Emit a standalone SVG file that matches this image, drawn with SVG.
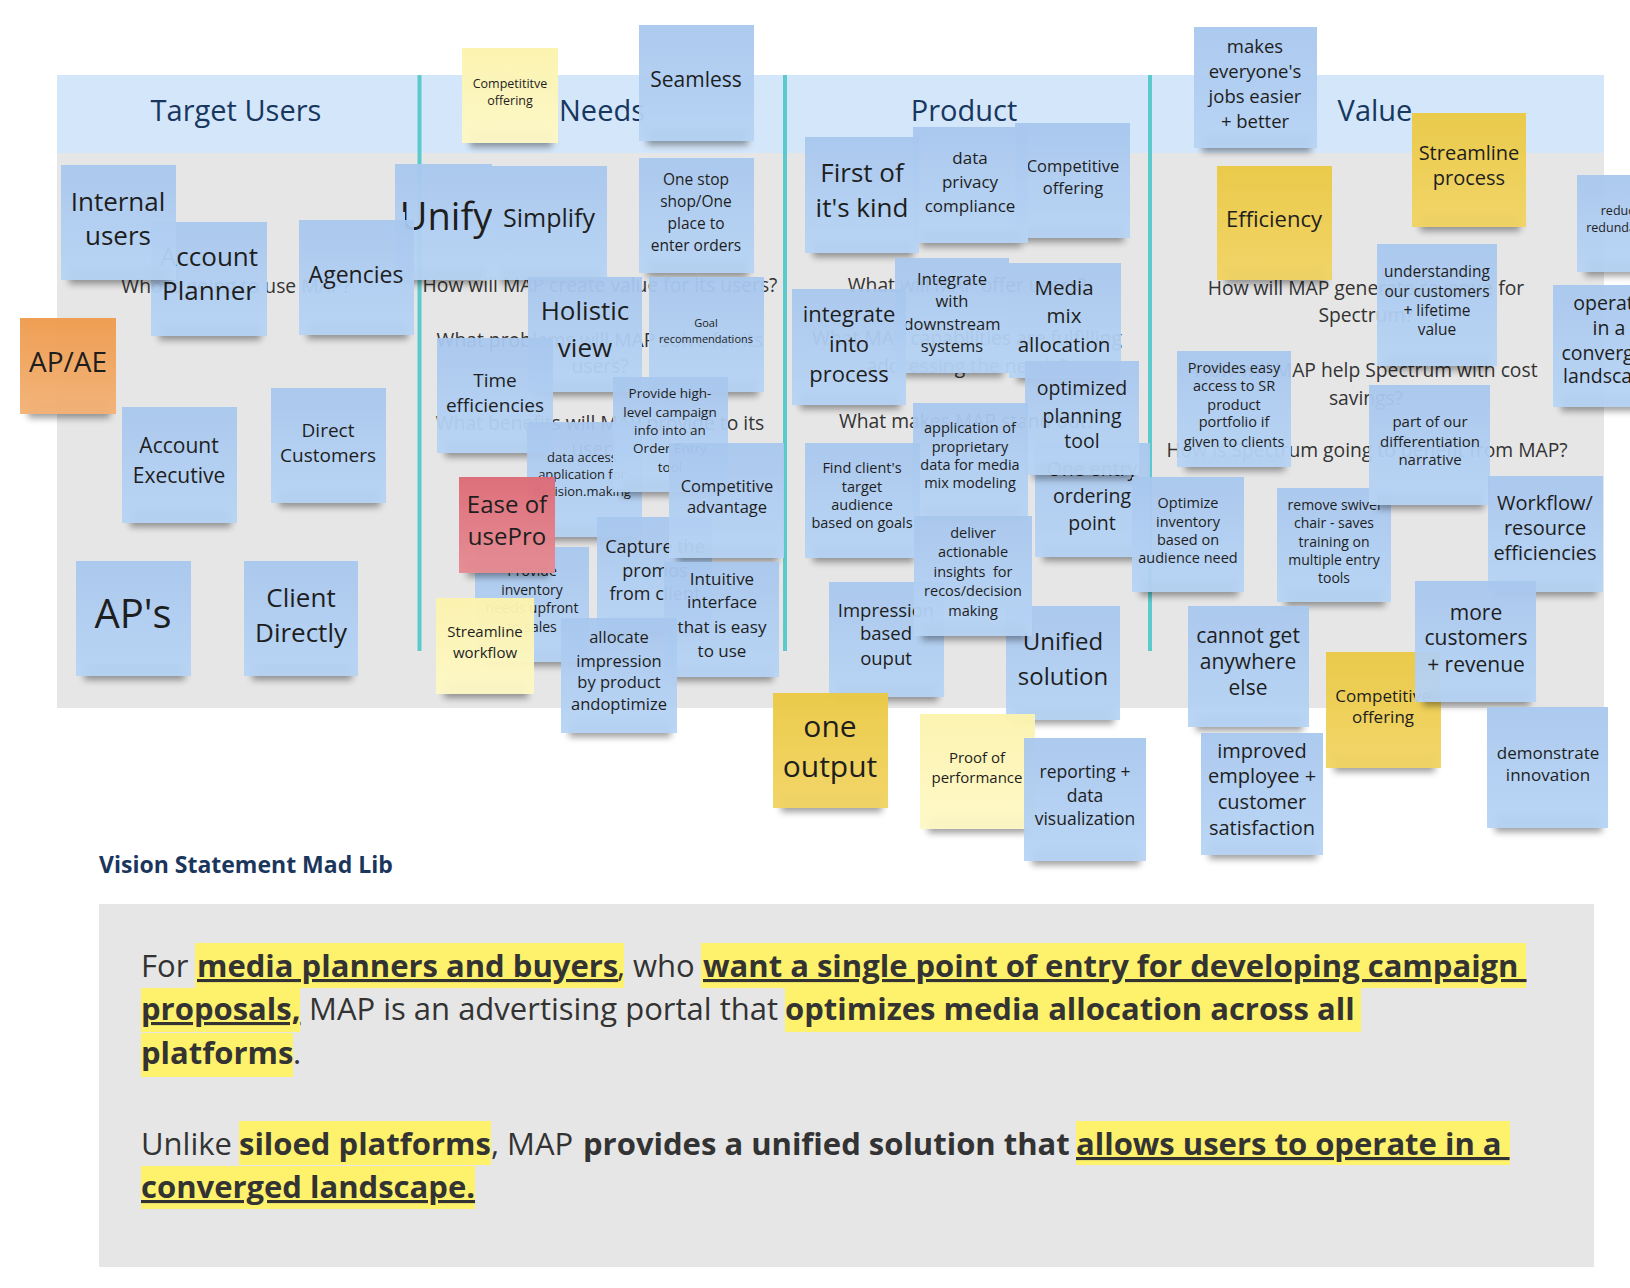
<svg xmlns="http://www.w3.org/2000/svg" width="1630" height="1288" viewBox="0 0 1630 1288">
<defs>
<linearGradient id="gB" x1="0" y1="0" x2="0" y2="1"><stop offset="0" stop-color="#a8c7ee"/><stop offset="1" stop-color="#b7d4f5"/></linearGradient>
<linearGradient id="gY" x1="0" y1="0" x2="0" y2="1"><stop offset="0" stop-color="#ebc944"/><stop offset="1" stop-color="#f1d463"/></linearGradient>
<linearGradient id="gL" x1="0" y1="0" x2="0" y2="1"><stop offset="0" stop-color="#fcf3ad"/><stop offset="1" stop-color="#fef8c6"/></linearGradient>
<linearGradient id="gO" x1="0" y1="0" x2="0" y2="1"><stop offset="0" stop-color="#ee9c4e"/><stop offset="1" stop-color="#f3b277"/></linearGradient>
<linearGradient id="gP" x1="0" y1="0" x2="0" y2="1"><stop offset="0" stop-color="#dd6b77"/><stop offset="1" stop-color="#e68c93"/></linearGradient>
<filter id="blr" x="-20%" y="-80%" width="140%" height="260%"><feGaussianBlur stdDeviation="3.5"/></filter>
<clipPath id="cUnify"><rect x="395" y="164" width="97" height="48"/><rect x="405" y="212" width="87" height="68"/></clipPath>
<style>
.sh{fill:#000;opacity:.38;filter:url(#blr)}
.b{fill:url(#gB);fill-opacity:.95}
.y{fill:url(#gY);fill-opacity:.96}
.l{fill:url(#gL);fill-opacity:.96}
.o{fill:url(#gO);fill-opacity:.97}
.p{fill:url(#gP);fill-opacity:.97}
.t{font-family:"Open Sans","Noto Sans",sans-serif;fill:#1e1e1e;text-anchor:middle}
.q{font-family:"Open Sans","Noto Sans",sans-serif;fill:#333;font-size:19.3px;text-anchor:middle}
.h{font-family:"Open Sans","Noto Sans",sans-serif;fill:#17375e;font-size:29px;text-anchor:middle}
.v{font-family:"Open Sans","Noto Sans",sans-serif;fill:#333;font-size:31px}
.bd{font-weight:700}
.u{text-decoration:underline}
.hl{fill:#fef16c}
.ln{fill:#5cc9cd}
</style>
</defs>
<rect width="1630" height="1288" fill="#fff"/>

<g id="board">
<rect x="57" y="75" width="1547" height="78" fill="#d4e6f9"/>
<rect x="57" y="153" width="1547" height="555" fill="#e6e6e6"/>
<rect class="ln" x="417.5" y="75" width="4" height="576"/>
<rect class="ln" x="783" y="75" width="4" height="576"/>
<rect class="ln" x="1148" y="75" width="4" height="576"/>
<text class="h" x="236" y="121">Target Users</text>
<text class="h" x="602" y="121">Needs</text>
<text class="h" x="964" y="121">Product</text>
<text class="h" x="1375" y="121">Value</text>
</g>

<g id="questions">
<text class="q" x="236" y="293">Who is going to use MAP?</text>
<text class="q" x="600" y="292">How will MAP create value for its users?</text>
<text class="q"><tspan x="600" y="347">What problems will MAP solve for its</tspan><tspan x="600" y="373">users?</tspan></text>
<text class="q"><tspan x="600" y="430">What benefits will MAP provide to its</tspan><tspan x="600" y="456">users?</tspan></text>
<text class="q" x="967" y="292">What will MAP offer users?</text>
<text class="q"><tspan x="967" y="345">What MAP capabilities are fulfilling</tspan><tspan x="967" y="373">addressing the needs?</tspan></text>
<text class="q" x="967" y="428">What makes MAP stand out?</text>
<text class="q"><tspan x="1366" y="295">How will MAP generate revenue for</tspan><tspan x="1366" y="322">Spectrum?</tspan></text>
<text class="q"><tspan x="1366" y="377">How will MAP help Spectrum with cost</tspan><tspan x="1366" y="405">savings?</tspan></text>
<text class="q" x="1367" y="457">How is Spectrum going to benefit from MAP?</text>
</g>

<g id="notes">
<g id="n-simplify"><rect class="sh" x="500" y="268" width="101" height="16"/><rect class="b" x="492" y="166" width="115" height="114"/><text class="t" font-size="25"><tspan x="549" y="227">Simplify</tspan></text></g>
<g id="n-unify"><rect class="sh" x="403" y="268" width="83" height="16"/><rect class="b" x="395" y="164" width="97" height="116"/><text class="t" font-size="38" clip-path="url(#cUnify)"><tspan x="446" y="230">Unify</tspan></text></g>
<g id="n-account-planner"><rect class="sh" x="159" y="324" width="102" height="16"/><rect class="b" x="151" y="222" width="116" height="114"/><text class="t" font-size="26"><tspan x="209" y="266">Account</tspan><tspan x="209" y="300">Planner</tspan></text></g>
<g id="n-internal-users"><rect class="sh" x="69" y="268" width="101" height="16"/><rect class="b" x="61" y="165" width="115" height="115"/><text class="t" font-size="26"><tspan x="118" y="211">Internal</tspan><tspan x="118" y="245">users</tspan></text></g>
<g id="n-agencies"><rect class="sh" x="307" y="323" width="101" height="16"/><rect class="b" x="299" y="220" width="115" height="115"/><text class="t" font-size="23"><tspan x="356" y="283">Agencies</tspan></text></g>
<g id="n-ap-ae"><rect class="sh" x="28" y="402" width="82" height="16"/><rect class="o" x="20" y="318" width="96" height="96"/><text class="t" font-size="28"><tspan x="68" y="372">AP/AE</tspan></text></g>
<g id="n-account-executive"><rect class="sh" x="130" y="511" width="101" height="16"/><rect class="b" x="122" y="407" width="115" height="116"/><text class="t" font-size="21"><tspan x="179" y="453">Account</tspan><tspan x="179" y="483">Executive</tspan></text></g>
<g id="n-direct-customers"><rect class="sh" x="279" y="491" width="101" height="16"/><rect class="b" x="271" y="388" width="115" height="115"/><text class="t" font-size="19"><tspan x="328" y="437">Direct</tspan><tspan x="328" y="462">Customers</tspan></text></g>
<g id="n-aps"><rect class="sh" x="84" y="664" width="101" height="16"/><rect class="b" x="76" y="561" width="115" height="115"/><text class="t" font-size="40"><tspan x="133" y="628">AP's</tspan></text></g>
<g id="n-client-directly"><rect class="sh" x="252" y="664" width="100" height="16"/><rect class="b" x="244" y="561" width="114" height="115"/><text class="t" font-size="26"><tspan x="301" y="607">Client</tspan><tspan x="301" y="642">Directly</tspan></text></g>

<g id="n-competititve-offering"><rect class="sh" x="470" y="131" width="82" height="16"/><rect class="l" x="462" y="48" width="96" height="95"/><text class="t" font-size="12.5"><tspan x="510" y="88">Competititve</tspan><tspan x="510" y="105">offering</tspan></text></g>
<g id="n-seamless"><rect class="sh" x="647" y="129" width="101" height="16"/><rect class="b" x="639" y="25" width="115" height="116"/><text class="t" font-size="21"><tspan x="696" y="87">Seamless</tspan></text></g>
<g id="n-one-stop"><rect class="sh" x="647" y="261" width="101" height="16"/><rect class="b" x="639" y="158" width="115" height="115"/><text class="t" font-size="15.5"><tspan x="696" y="185">One stop</tspan><tspan x="696" y="207">shop/One</tspan><tspan x="696" y="229">place to</tspan><tspan x="696" y="251">enter orders</tspan></text></g>
<g id="n-holistic-view"><rect class="sh" x="536" y="380" width="100" height="16"/><rect class="b" x="528" y="277" width="114" height="115"/><text class="t" font-size="26"><tspan x="585" y="320">Holistic</tspan><tspan x="585" y="357">view</tspan></text></g>
<g id="n-goal"><rect class="sh" x="657" y="380" width="101" height="16"/><rect class="b" x="649" y="277" width="115" height="115"/><text class="t" font-size="11"><tspan x="706" y="327">Goal</tspan><tspan x="706" y="343">recommendations</tspan></text></g>
<g id="n-time"><rect class="sh" x="445" y="441" width="102" height="16"/><rect class="b" x="437" y="338" width="116" height="115"/><text class="t" font-size="19"><tspan x="495" y="387">Time</tspan><tspan x="495" y="412">efficiencies</tspan></text></g>
<g id="n-data-access"><rect class="sh" x="535" y="525" width="101" height="16"/><rect class="b" x="527" y="422" width="115" height="115"/><text class="t" font-size="13"><tspan x="582" y="462">data access</tspan><tspan x="582" y="479">application for</tspan><tspan x="582" y="496">decision.making</tspan></text></g>
<g id="n-provide-campaign"><rect class="sh" x="621" y="480" width="101" height="16"/><rect class="b" x="613" y="377" width="115" height="115"/><text class="t" font-size="13.5"><tspan x="670" y="398">Provide high-</tspan><tspan x="670" y="417">level campaign</tspan><tspan x="670" y="435">info into an</tspan><tspan x="670" y="453">Order Entry</tspan><tspan x="670" y="472">tool</tspan></text></g>
<g id="n-provide-inventory"><rect class="sh" x="483" y="650" width="100" height="16"/><rect class="b" x="475" y="547" width="114" height="115"/><text class="t" font-size="14"><tspan x="532" y="576">Provide</tspan><tspan x="532" y="595">inventory</tspan><tspan x="532" y="613">needs upfront</tspan><tspan x="532" y="632">to sales</tspan></text></g>
<g id="n-ease"><rect class="sh" x="467" y="561" width="82" height="16"/><rect class="p" x="459" y="477" width="96" height="96"/><text class="t" font-size="24"><tspan x="507" y="513">Ease of</tspan><tspan x="507" y="545">usePro</tspan></text></g>
<g id="n-capture"><rect class="sh" x="605" y="620" width="101" height="16"/><rect class="b" x="597" y="517" width="115" height="115"/><text class="t" font-size="18"><tspan x="655" y="553">Capture the</tspan><tspan x="655" y="577">promos</tspan><tspan x="655" y="600">from client</tspan></text></g>
<g id="n-competitive-advantage"><rect class="sh" x="677" y="546" width="101" height="16"/><rect class="b" x="669" y="443" width="115" height="115"/><text class="t" font-size="16.5"><tspan x="727" y="492">Competitive</tspan><tspan x="727" y="513">advantage</tspan></text></g>
<g id="n-intuitive"><rect class="sh" x="672" y="665" width="101" height="16"/><rect class="b" x="664" y="562" width="115" height="115"/><text class="t" font-size="17"><tspan x="722" y="585">Intuitive</tspan><tspan x="722" y="608">interface</tspan><tspan x="722" y="633">that is easy</tspan><tspan x="722" y="657">to use</tspan></text></g>
<g id="n-allocate"><rect class="sh" x="569" y="721" width="102" height="16"/><rect class="b" x="561" y="618" width="116" height="115"/><text class="t" font-size="16.5"><tspan x="619" y="643">allocate</tspan><tspan x="619" y="667">impression</tspan><tspan x="619" y="688">by product</tspan><tspan x="619" y="710">andoptimize</tspan></text></g>
<g id="n-streamline-workflow"><rect class="sh" x="444" y="682" width="84" height="16"/><rect class="l" x="436" y="598" width="98" height="96"/><text class="t" font-size="15"><tspan x="485" y="637">Streamline</tspan><tspan x="485" y="658">workflow</tspan></text></g>

<g id="n-competitive-offering-product"><rect class="sh" x="1023" y="226" width="101" height="16"/><rect class="b" x="1015" y="123" width="115" height="115"/><text class="t" font-size="16.5"><tspan x="1073" y="172">Competitive</tspan><tspan x="1073" y="194">offering</tspan></text></g>
<g id="n-data-privacy"><rect class="sh" x="921" y="231" width="101" height="16"/><rect class="b" x="913" y="127" width="115" height="116"/><text class="t" font-size="17"><tspan x="970" y="164">data</tspan><tspan x="970" y="188">privacy</tspan><tspan x="970" y="212">compliance</tspan></text></g>
<g id="n-first-of-its-kind"><rect class="sh" x="813" y="241" width="100" height="16"/><rect class="b" x="805" y="137" width="114" height="116"/><text class="t" font-size="26"><tspan x="862" y="182">First of</tspan><tspan x="862" y="217">it's kind</tspan></text></g>
<g id="n-integrate-downstream"><rect class="sh" x="903" y="361" width="100" height="16"/><rect class="b" x="895" y="258" width="114" height="115"/><text class="t" font-size="16.5"><tspan x="952" y="285">Integrate</tspan><tspan x="952" y="307">with</tspan><tspan x="952" y="330">downstream</tspan><tspan x="952" y="352">systems</tspan></text></g>
<g id="n-media-mix"><rect class="sh" x="1017" y="366" width="98" height="16"/><rect class="b" x="1009" y="263" width="112" height="115"/><text class="t" font-size="20.5"><tspan x="1064" y="295">Media</tspan><tspan x="1064" y="323">mix</tspan><tspan x="1064" y="352">allocation</tspan></text></g>
<g id="n-integrate-into-process"><rect class="sh" x="800" y="393" width="100" height="16"/><rect class="b" x="792" y="289" width="114" height="116"/><text class="t" font-size="22"><tspan x="849" y="322">integrate</tspan><tspan x="849" y="352">into</tspan><tspan x="849" y="382">process</tspan></text></g>
<g id="n-one-entry"><rect class="sh" x="1043" y="545" width="101" height="16"/><rect class="b" x="1035" y="443" width="115" height="114"/><text class="t" font-size="19.5"><tspan x="1092" y="476">One entry</tspan><tspan x="1092" y="503">ordering</tspan><tspan x="1092" y="530">point</tspan></text></g>
<g id="n-optimized-planning"><rect class="sh" x="1033" y="463" width="100" height="16"/><rect class="b" x="1025" y="361" width="114" height="114"/><text class="t" font-size="19.5"><tspan x="1082" y="395">optimized</tspan><tspan x="1082" y="423">planning</tspan><tspan x="1082" y="448">tool</tspan></text></g>
<g id="n-application"><rect class="sh" x="921" y="505" width="101" height="16"/><rect class="b" x="913" y="403" width="115" height="114"/><text class="t" font-size="14.5"><tspan x="970" y="433">application of</tspan><tspan x="970" y="452">proprietary</tspan><tspan x="970" y="470">data for media</tspan><tspan x="970" y="488">mix modeling</tspan></text></g>
<g id="n-find-clients"><rect class="sh" x="813" y="546" width="101" height="16"/><rect class="b" x="805" y="443" width="115" height="115"/><text class="t" font-size="14.5"><tspan x="862" y="473">Find client's</tspan><tspan x="862" y="492">target</tspan><tspan x="862" y="510">audience</tspan><tspan x="862" y="528">based on goals</tspan></text></g>
<g id="n-impression"><rect class="sh" x="837" y="685" width="101" height="16"/><rect class="b" x="829" y="582" width="115" height="115"/><text class="t" font-size="18.5"><tspan x="886" y="617">Impression</tspan><tspan x="886" y="640">based</tspan><tspan x="886" y="665">ouput</tspan></text></g>
<g id="n-unified-solution"><rect class="sh" x="1014" y="708" width="100" height="16"/><rect class="b" x="1006" y="606" width="114" height="114"/><text class="t" font-size="24"><tspan x="1063" y="650">Unified</tspan><tspan x="1063" y="685">solution</tspan></text></g>
<g id="n-deliver"><rect class="sh" x="922" y="624" width="104" height="16"/><rect class="b" x="914" y="516" width="118" height="120"/><text class="t" font-size="14.5" xml:space="preserve"><tspan x="973" y="538">deliver</tspan><tspan x="973" y="557">actionable</tspan><tspan x="973" y="577">insights  for</tspan><tspan x="973" y="596">recos/decision</tspan><tspan x="973" y="616">making</tspan></text></g>
<g id="n-one-output"><rect class="sh" x="781" y="796" width="101" height="16"/><rect class="y" x="773" y="693" width="115" height="115"/><text class="t" font-size="30"><tspan x="830" y="737">one</tspan><tspan x="830" y="777">output</tspan></text></g>
<g id="n-proof"><rect class="sh" x="928" y="817" width="101" height="16"/><rect class="l" x="920" y="714" width="115" height="115"/><text class="t" font-size="15"><tspan x="977" y="763">Proof of</tspan><tspan x="977" y="783">performance</tspan></text></g>
<g id="n-reporting"><rect class="sh" x="1032" y="849" width="108" height="16"/><rect class="b" x="1024" y="738" width="122" height="123"/><text class="t" font-size="17.5"><tspan x="1085" y="778">reporting +</tspan><tspan x="1085" y="802">data</tspan><tspan x="1085" y="825">visualization</tspan></text></g>

<g id="n-makes-easier"><rect class="sh" x="1202" y="136" width="109" height="16"/><rect class="b" x="1194" y="27" width="123" height="121"/><text class="t" font-size="18.5"><tspan x="1255" y="53">makes</tspan><tspan x="1255" y="78">everyone's</tspan><tspan x="1255" y="103">jobs easier</tspan><tspan x="1255" y="128">+ better</tspan></text></g>
<g id="n-efficiency"><rect class="sh" x="1225" y="268" width="101" height="16"/><rect class="y" x="1217" y="166" width="115" height="114"/><text class="t" font-size="22"><tspan x="1274" y="227">Efficiency</tspan></text></g>
<g id="n-streamline-process"><rect class="sh" x="1420" y="215" width="100" height="16"/><rect class="y" x="1412" y="113" width="114" height="114"/><text class="t" font-size="20"><tspan x="1469" y="160">Streamline</tspan><tspan x="1469" y="185">process</tspan></text></g>
<g id="n-reduce"><rect class="sh" x="1585" y="260" width="82" height="16"/><rect class="b" x="1577" y="175" width="96" height="97"/><text class="t" font-size="12.5"><tspan x="1621" y="215">reduce</tspan><tspan x="1621" y="232">redundancy</tspan></text></g>
<g id="n-operate"><rect class="sh" x="1561" y="395" width="112" height="16"/><rect class="b" x="1553" y="285" width="126" height="122"/><text class="t" font-size="19.5"><tspan x="1609" y="310">operate</tspan><tspan x="1609" y="335">in a</tspan><tspan x="1609" y="360">converged</tspan><tspan x="1609" y="383">landscape</tspan></text></g>
<g id="n-understanding"><rect class="sh" x="1385" y="354" width="106" height="16"/><rect class="b" x="1377" y="244" width="120" height="122"/><text class="t" font-size="15.5"><tspan x="1437" y="277">understanding</tspan><tspan x="1437" y="297">our customers</tspan><tspan x="1437" y="316">+ lifetime</tspan><tspan x="1437" y="335">value</tspan></text></g>
<g id="n-provides-easy"><rect class="sh" x="1185" y="455" width="100" height="16"/><rect class="b" x="1177" y="351" width="114" height="116"/><text class="t" font-size="14.5"><tspan x="1234" y="373">Provides easy</tspan><tspan x="1234" y="391">access to SR</tspan><tspan x="1234" y="410">product</tspan><tspan x="1234" y="427">portfolio if</tspan><tspan x="1234" y="447">given to clients</tspan></text></g>
<g id="n-remove-swivel"><rect class="sh" x="1285" y="590" width="100" height="16"/><rect class="b" x="1277" y="488" width="114" height="114"/><text class="t" font-size="14"><tspan x="1334" y="510">remove swivel</tspan><tspan x="1334" y="528">chair - saves</tspan><tspan x="1334" y="547">training on</tspan><tspan x="1334" y="565">multiple entry</tspan><tspan x="1334" y="583">tools</tspan></text></g>
<g id="n-differentiation"><rect class="sh" x="1377" y="493" width="107" height="16"/><rect class="b" x="1369" y="385" width="121" height="120"/><text class="t" font-size="15"><tspan x="1430" y="427">part of our</tspan><tspan x="1430" y="447">differentiation</tspan><tspan x="1430" y="465">narrative</tspan></text></g>
<g id="n-optimize-inventory"><rect class="sh" x="1140" y="580" width="98" height="16"/><rect class="b" x="1132" y="477" width="112" height="115"/><text class="t" font-size="14.5"><tspan x="1188" y="508">Optimize</tspan><tspan x="1188" y="527">inventory</tspan><tspan x="1188" y="545">based on</tspan><tspan x="1188" y="563">audience need</tspan></text></g>
<g id="n-workflow"><rect class="sh" x="1496" y="580" width="101" height="16"/><rect class="b" x="1488" y="476" width="115" height="116"/><text class="t" font-size="20"><tspan x="1545" y="510">Workflow/</tspan><tspan x="1545" y="535">resource</tspan><tspan x="1545" y="560">efficiencies</tspan></text></g>
<g id="n-cannot-get"><rect class="sh" x="1196" y="715" width="107" height="16"/><rect class="b" x="1188" y="606" width="121" height="121"/><text class="t" font-size="21"><tspan x="1248" y="643">cannot get</tspan><tspan x="1248" y="669">anywhere</tspan><tspan x="1248" y="695">else</tspan></text></g>
<g id="n-improved"><rect class="sh" x="1209" y="843" width="108" height="16"/><rect class="b" x="1201" y="733" width="122" height="122"/><text class="t" font-size="20"><tspan x="1262" y="758">improved</tspan><tspan x="1262" y="783">employee +</tspan><tspan x="1262" y="809">customer</tspan><tspan x="1262" y="835">satisfaction</tspan></text></g>
<g id="n-competitive-offering-value"><rect class="sh" x="1334" y="756" width="101" height="16"/><rect class="y" x="1326" y="652" width="115" height="116"/><text class="t" font-size="17"><tspan x="1383" y="702">Competitive</tspan><tspan x="1383" y="723">offering</tspan></text></g>
<g id="n-more-customers"><rect class="sh" x="1423" y="690" width="107" height="16"/><rect class="b" x="1415" y="581" width="121" height="121"/><text class="t" font-size="21"><tspan x="1476" y="620">more</tspan><tspan x="1476" y="645">customers</tspan><tspan x="1476" y="672">+ revenue</tspan></text></g>
<g id="n-demonstrate"><rect class="sh" x="1495" y="816" width="107" height="16"/><rect class="b" x="1487" y="707" width="121" height="121"/><text class="t" font-size="17"><tspan x="1548" y="759">demonstrate</tspan><tspan x="1548" y="781">innovation</tspan></text></g>
</g>

<g id="connectors"></g>

<g id="vision">
<text x="99" y="873" font-family="Open Sans, Noto Sans, sans-serif" font-weight="700" font-size="23" fill="#1b365d">Vision Statement Mad Lib</text>
<rect x="99" y="904" width="1495" height="363" fill="#e6e6e6"/>
<rect class="hl" x="195" y="943" width="429" height="45"/>
<rect class="hl" x="701" y="943" width="825" height="45"/>
<rect class="hl" x="141" y="988" width="159" height="44"/>
<rect class="hl" x="785" y="988" width="576" height="44"/>
<rect class="hl" x="141" y="1033" width="152" height="44"/>
<rect class="hl" x="239" y="1121" width="252" height="44"/>
<rect class="hl" x="1076" y="1121" width="434" height="44"/>
<rect class="hl" x="141" y="1166" width="334" height="43"/>
<text class="v" xml:space="preserve"><tspan x="141" y="977">For</tspan><tspan x="197" y="977" class="bd u">media planners and buyers</tspan><tspan x="617" y="977">, who</tspan><tspan x="703" y="977" class="bd u">want a single point of entry for developing campaign </tspan></text>
<text class="v" xml:space="preserve"><tspan x="141" y="1020" class="bd u">proposals,</tspan><tspan x="309" y="1020">MAP is an advertising portal that</tspan><tspan x="785" y="1020" class="bd">optimizes media allocation across all</tspan></text>
<text class="v" xml:space="preserve"><tspan x="141" y="1064" class="bd">platforms</tspan><tspan x="293" y="1064">.</tspan></text>
<text class="v" xml:space="preserve"><tspan x="141" y="1155">Unlike</tspan><tspan x="239" y="1155" class="bd">siloed platforms</tspan><tspan x="491" y="1155">, MAP</tspan><tspan x="583" y="1155" class="bd">provides a unified solution that</tspan><tspan x="1076" y="1155" class="bd u">allows users to operate in a </tspan></text>
<text class="v" xml:space="preserve"><tspan x="141" y="1198" class="bd u">converged landscape.</tspan></text>
</g>
</svg>
